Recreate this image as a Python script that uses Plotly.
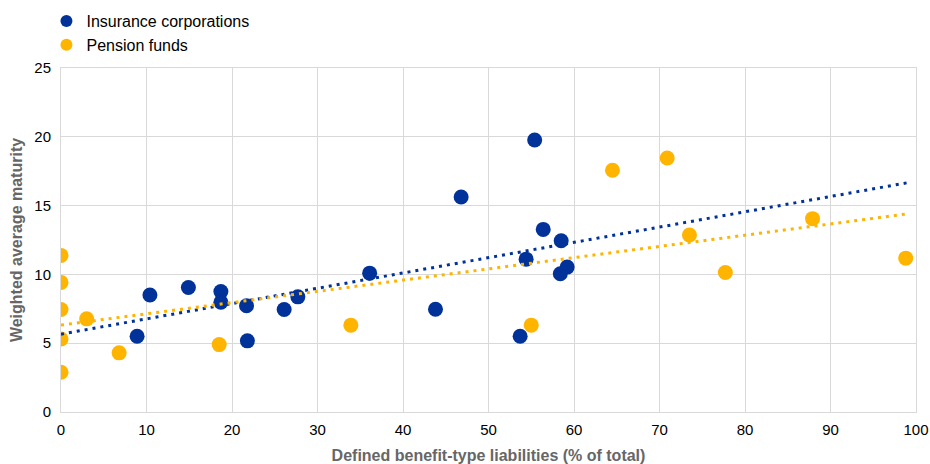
import numpy as np
import plotly.graph_objects as go

# Insurance corporations: share of defined benefit-type liabilities vs weighted average maturity
ins_x = [8.9, 10.4, 14.9, 18.7, 18.7, 21.7, 21.8, 26.1, 27.7, 36.1, 43.8, 46.8, 54.4, 53.7, 55.4, 56.4, 58.5, 58.4, 59.2]
ins_y = [5.5, 8.5, 9.05, 8.75, 7.98, 7.72, 5.17, 7.45, 8.37, 10.09, 7.47, 15.63, 11.11, 5.51, 19.77, 13.27, 12.45, 10.05, 10.53]

# Pension funds
pen_x = [0.0, 0.0, 0.0, 0.0, 0.0, 3.0, 6.8, 18.5, 33.9, 55.0, 64.5, 70.9, 73.5, 77.7, 87.9, 98.8]
pen_y = [11.38, 9.42, 7.45, 5.31, 2.89, 6.77, 4.3, 4.9, 6.31, 6.31, 17.57, 18.46, 12.86, 10.14, 14.05, 11.18]

x_ticks = [0, 10, 20, 30, 40, 50, 60, 70, 80, 90, 100]
y_ticks = [0, 5, 10, 15, 20, 25]

BLUE = "#003299"
YELLOW = "#FFB400"
FONT = "Liberation Sans, Arial, sans-serif"


def trend(xs, ys, x0=0.0, x1=99.0):
    slope, intercept = np.polyfit(xs, ys, 1)
    tx = np.array([x0, x1])
    return tx, intercept + slope * tx


fig = go.Figure()
fig.add_trace(go.Scatter(x=ins_x, y=ins_y, mode="markers", name="Insurance corporations",
                         marker=dict(color=BLUE, size=15)))
fig.add_trace(go.Scatter(x=pen_x, y=pen_y, mode="markers", name="Pension funds",
                         marker=dict(color=YELLOW, size=15)))

tx, ty = trend(ins_x, ins_y)
fig.add_trace(go.Scatter(x=tx, y=ty, mode="lines", showlegend=False, hoverinfo="skip",
                         line=dict(color=BLUE, width=3, dash="3px,5px")))
tx, ty = trend(pen_x, pen_y)
fig.add_trace(go.Scatter(x=tx, y=ty, mode="lines", showlegend=False, hoverinfo="skip",
                         line=dict(color=YELLOW, width=3, dash="3px,5px")))

fig.update_xaxes(range=[0, 100], tickvals=x_ticks, showgrid=True, gridcolor="#d9d9d9",
                 zeroline=False, showline=True, linecolor="#d9d9d9", mirror=True,
                 ticks="", tickfont=dict(size=15, color="#000000"), automargin=False,
                 ticklabelstandoff=4,
                 title=dict(text="<b>Defined benefit-type liabilities (% of total)</b>",
                            font=dict(size=16, color="#666666"), standoff=14))
fig.update_yaxes(range=[0, 25], tickvals=y_ticks, showgrid=True, gridcolor="#d9d9d9",
                 zeroline=False, showline=True, linecolor="#d9d9d9", mirror=True,
                 ticks="", tickfont=dict(size=15, color="#000000"), automargin=False,
                 ticklabelstandoff=6,
                 title=dict(text="<b>Weighted average maturity</b>",
                            font=dict(size=16, color="#666666"), standoff=7))
fig.update_layout(
    width=930, height=464,
    paper_bgcolor="white", plot_bgcolor="white",
    font=dict(family=FONT),
    margin=dict(l=61, r=14, t=68, b=52, autoexpand=False),
    legend=dict(orientation="v", x=-0.017, y=1.186, xanchor="left", yanchor="top",
                font=dict(size=16, color="#000000"), itemsizing="constant",
                tracegroupgap=0, bgcolor="rgba(0,0,0,0)"),
    showlegend=True,
)
# the page's default body margin would shift the figure by 8px
fig.write_html("out.html", config={"displayModeBar": False},
               post_script="document.body.style.margin='0';document.body.style.overflow='hidden';")
